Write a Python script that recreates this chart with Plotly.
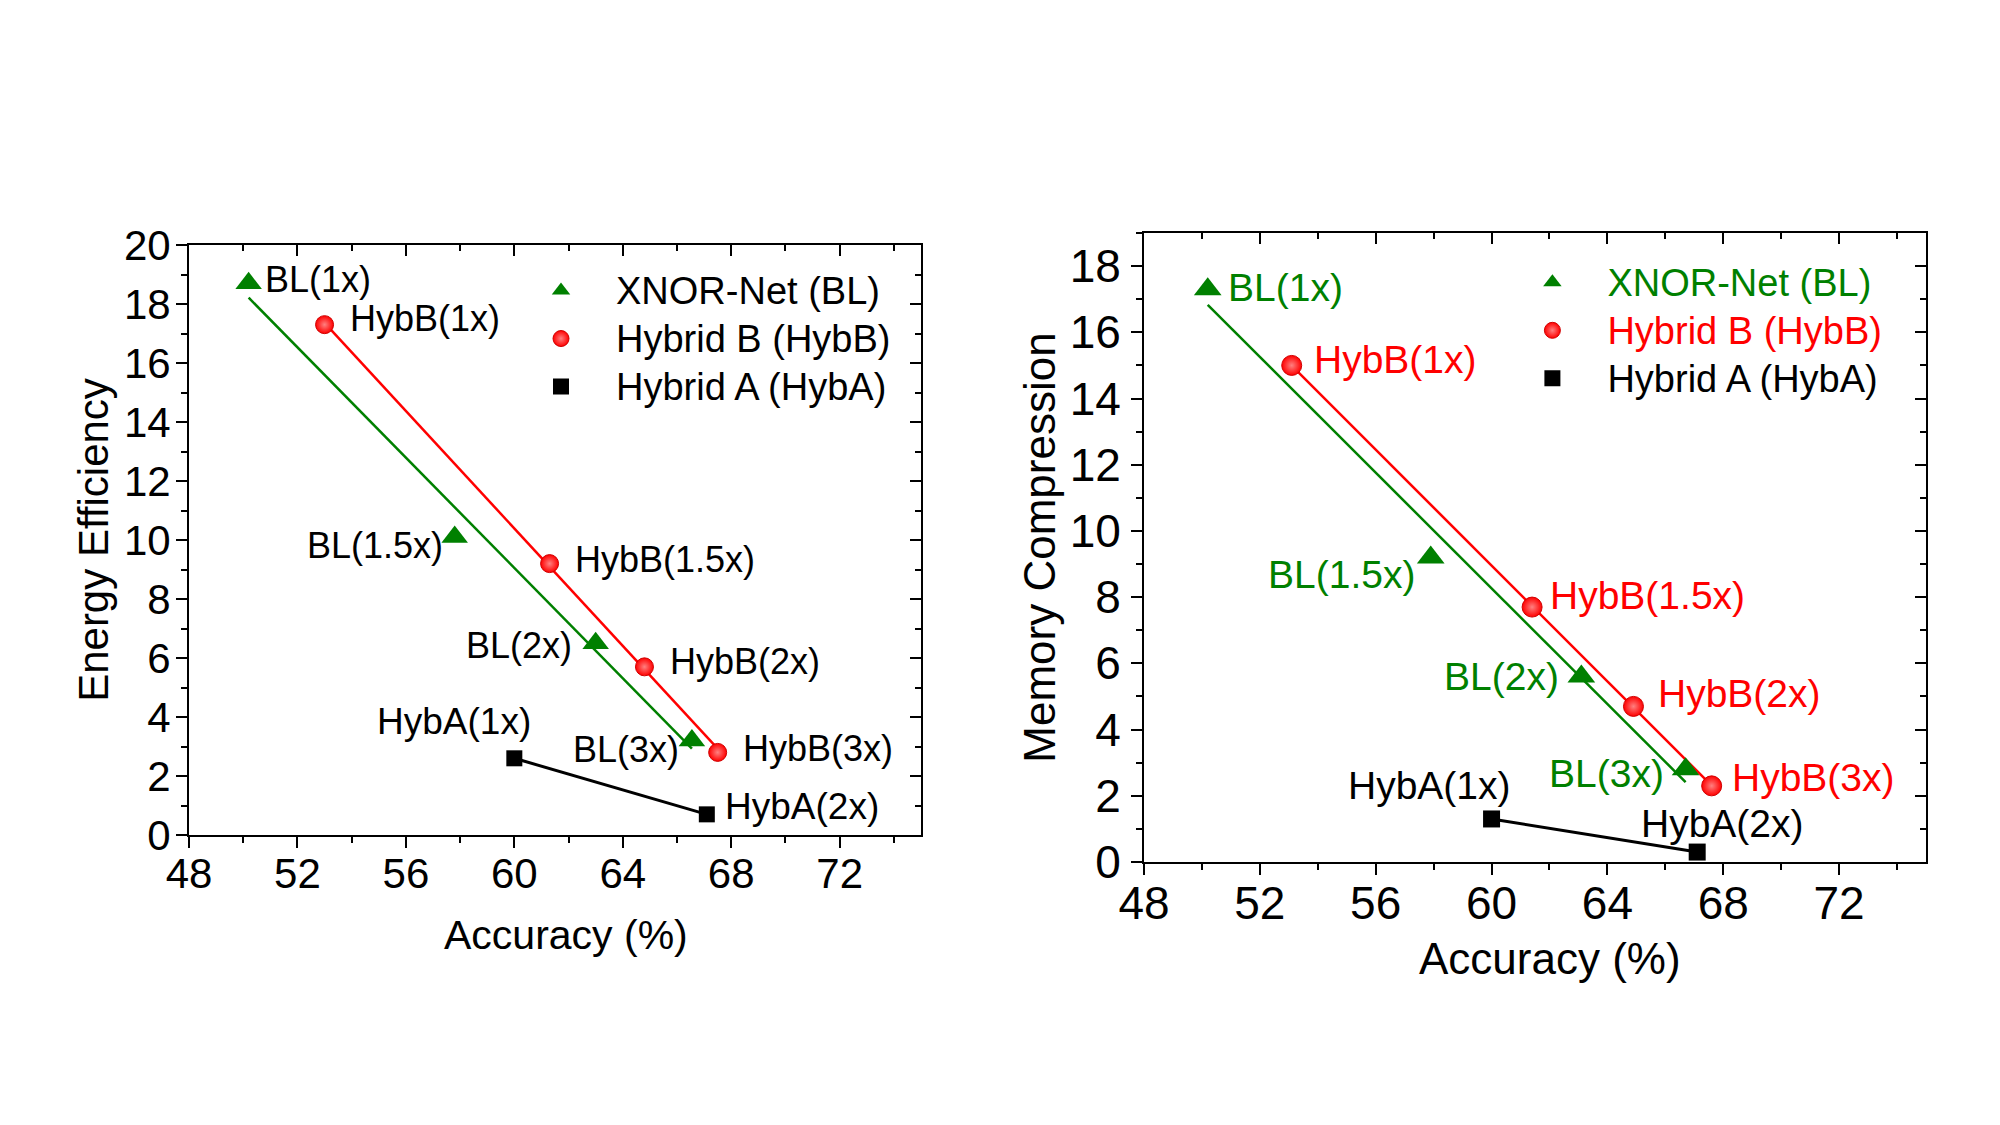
import numpy as np
import plotly.graph_objects as go

# ---------------- data: left panel (Energy Efficiency) ----------------
acc_bl_e = [50.2, 57.8, 63.0, 66.55]
ee_bl = [18.7, 10.1, 6.5, 3.2]
acc_hybb_e = [53.0, 61.3, 64.8, 67.5]
ee_hybb = [17.3, 9.2, 5.7, 2.8]
acc_hyba_e = [60.0, 67.1]
ee_hyba = [2.6, 0.7]

# ---------------- data: right panel (Memory Compression) ----------------
acc_bl_m = [50.2, 57.9, 63.1, 66.7]
mc_bl = [17.3, 9.2, 5.6, 2.8]
acc_hybb_m = [53.1, 61.4, 64.9, 67.6]
mc_hybb = [15.0, 7.7, 4.7, 2.3]
acc_hyba_m = [60.0, 67.1]
mc_hyba = [1.3, 0.3]

lbl_bl = ["BL(1x)", "BL(1.5x)", "BL(2x)", "BL(3x)"]
lbl_hybb = ["HybB(1x)", "HybB(1.5x)", "HybB(2x)", "HybB(3x)"]
lbl_hyba = ["HybA(1x)", "HybA(2x)"]

series_names = ["XNOR-Net (BL)", "Hybrid B (HybB)", "Hybrid A (HybA)"]
x_ticks = [48, 52, 56, 60, 64, 68, 72]
x_title = "Accuracy (%)"

GREEN = "#008000"
RED = "#ff0000"
BLACK = "#000000"
FONT = "Liberation Sans, Arial, sans-serif"

fig = go.Figure()


def fit_line(xs, ys):
    c = np.polyfit(xs, ys, 1)
    xe = [min(xs), max(xs)]
    return xe, list(np.polyval(c, xe))


def add_panel(xa, ya, bl_x, bl_y, b_x, b_y, a_x, a_y, legend, colored, msz):
    xr = "x" if xa == 1 else f"x{xa}"
    yr = "y" if ya == 1 else f"y{ya}"
    fx, fy = fit_line(bl_x, bl_y)
    fig.add_trace(go.Scatter(x=fx, y=fy, mode="lines", line=dict(color=GREEN, width=2.5),
                             xaxis=xr, yaxis=yr, showlegend=False, hoverinfo="skip"))
    fx, fy = fit_line(b_x, b_y)
    fig.add_trace(go.Scatter(x=fx, y=fy, mode="lines", line=dict(color=RED, width=2.5),
                             xaxis=xr, yaxis=yr, showlegend=False, hoverinfo="skip"))
    fig.add_trace(go.Scatter(x=a_x, y=a_y, mode="lines", line=dict(color=BLACK, width=3),
                             xaxis=xr, yaxis=yr, showlegend=False, hoverinfo="skip"))
    cols = [GREEN, RED, BLACK] if colored else [BLACK] * 3
    names = [f"<span style='color:{c};font-size:38px'>{n}</span>" for c, n in zip(cols, series_names)]
    fig.add_trace(go.Scatter(x=bl_x, y=bl_y, mode="markers", name=names[0], legend=legend,
                             marker=dict(symbol="triangle-up", size=msz[0], color=GREEN, line=dict(width=0)),
                             xaxis=xr, yaxis=yr))
    fig.add_trace(go.Scatter(x=b_x, y=b_y, mode="markers", name=names[1], legend=legend,
                             marker=dict(symbol="circle", size=msz[1], color=RED,
                                         gradient=dict(type="radial", color="#ff8080"),
                                         line=dict(width=1, color="#d00000")),
                             xaxis=xr, yaxis=yr))
    fig.add_trace(go.Scatter(x=a_x, y=a_y, mode="markers", name=names[2], legend=legend,
                             marker=dict(symbol="square", size=msz[2], color=BLACK, line=dict(width=0)),
                             xaxis=xr, yaxis=yr))


add_panel(1, 1, acc_bl_e, ee_bl, acc_hybb_e, ee_hybb, acc_hyba_e, ee_hyba, "legend", False, (23, 18, 16))
add_panel(2, 2, acc_bl_m, mc_bl, acc_hybb_m, mc_hybb, acc_hyba_m, mc_hyba, "legend2", True, (24, 20, 17))

# invisible traces to anchor mirror axes (inward ticks on top/right)
fig.add_trace(go.Scatter(x=acc_hyba_e, y=ee_hyba, xaxis="x3", yaxis="y3", mode="markers",
                         marker=dict(opacity=0), showlegend=False, hoverinfo="skip"))
fig.add_trace(go.Scatter(x=acc_hyba_m, y=mc_hyba, xaxis="x4", yaxis="y4", mode="markers",
                         marker=dict(opacity=0), showlegend=False, hoverinfo="skip"))

# ---------------- annotations (point labels) ----------------
ann = []


def labels(xr, yr, xs, ys, texts, color, size, offs):
    for x, y, t, (anc, dx, dy) in zip(xs, ys, texts, offs):
        ann.append(dict(x=x, y=y, xref=xr, yref=yr, text=t, showarrow=False,
                        xanchor=anc, yanchor="middle", xshift=dx, yshift=dy,
                        font=dict(family=FONT, size=size, color=color)))


labels("x", "y", acc_bl_e, ee_bl, lbl_bl, BLACK, 36,
       [("left", 14, 4), ("right", -10, -8), ("right", -22, -2), ("right", -11, -9)])
labels("x", "y", acc_hybb_e, ee_hybb, lbl_hybb, BLACK, 36,
       [("left", 23, 6), ("left", 23, 4), ("left", 24, 5), ("left", 23, 4)])
labels("x", "y", acc_hyba_e, ee_hyba, lbl_hyba, BLACK, 37,
       [("center", -60, 37), ("left", 16, 8)])

labels("x2", "y2", acc_bl_m, mc_bl, lbl_bl, GREEN, 39,
       [("left", 18, 2), ("right", -14, -17), ("right", -20, 0), ("right", -20, -4)])
labels("x2", "y2", acc_hybb_m, mc_hybb, lbl_hybb, RED, 39,
       [("left", 20, 6), ("left", 16, 12), ("left", 23, 13), ("left", 18, 8)])
labels("x2", "y2", acc_hyba_m, mc_hyba, lbl_hyba, BLACK, 39,
       [("center", -62, 33), ("center", 25, 29)])

# x-axis titles (placed slightly right of axis centre, as in the original)
ann.append(dict(x=0.283, y=0.1689, xref="paper", yref="paper", text=x_title, showarrow=False,
                xanchor="center", yanchor="middle", font=dict(family=FONT, size=41, color=BLACK)))
ann.append(dict(x=0.775, y=0.1476, xref="paper", yref="paper", text=x_title, showarrow=False,
                xanchor="center", yanchor="middle", font=dict(family=FONT, size=44, color=BLACK)))


def base_x(tsz, lstand, dom, anchor):
    return dict(domain=dom, anchor=anchor, range=[48, 75], tickvals=x_ticks, automargin=False,
                ticks="outside", ticklen=11, tickwidth=2, tickcolor=BLACK,
                minor=dict(ticks="outside", ticklen=6, tickwidth=2, dtick=2, tick0=48, tickcolor=BLACK),
                showline=True, linewidth=2, linecolor=BLACK, showgrid=False, zeroline=False,
                tickfont=dict(family=FONT, size=tsz, color=BLACK), ticklabelstandoff=lstand)


def base_y(rng, tsize, tsz, standoff, lstand, dom, anchor, title):
    return dict(domain=dom, anchor=anchor, range=rng, dtick=2, tick0=0, automargin=False,
                ticks="outside", ticklen=11, tickwidth=2, tickcolor=BLACK,
                minor=dict(ticks="outside", ticklen=6, tickwidth=2, dtick=1, tickcolor=BLACK),
                showline=True, linewidth=2, linecolor=BLACK, showgrid=False, zeroline=False,
                tickfont=dict(family=FONT, size=tsz, color=BLACK), ticklabelstandoff=lstand,
                title=dict(text=title, font=dict(family=FONT, size=tsize, color=BLACK), standoff=standoff))


def mirror_x(base, rng):
    return dict(overlaying=base, side="top", anchor="y" if base == "x" else "y2", range=rng,
                tickvals=x_ticks, ticks="inside", ticklen=11, tickwidth=2, tickcolor=BLACK,
                minor=dict(ticks="inside", ticklen=6, tickwidth=2, dtick=2, tick0=48, tickcolor=BLACK),
                showticklabels=False, showline=True, linewidth=2, linecolor=BLACK,
                showgrid=False, zeroline=False, automargin=False)


def mirror_y(base, anchor, rng):
    return dict(overlaying=base, side="right", anchor=anchor, range=rng, dtick=2, tick0=0,
                ticks="inside", ticklen=11, tickwidth=2, tickcolor=BLACK,
                minor=dict(ticks="inside", ticklen=6, tickwidth=2, dtick=1, tickcolor=BLACK),
                showticklabels=False, showline=True, linewidth=2, linecolor=BLACK,
                showgrid=False, zeroline=False, automargin=False)


LX = [0.0945, 0.4605]
LY = [0.25778, 0.78222]
RX = [0.572, 0.963]
RY = [0.23378, 0.79289]

fig.update_layout(
    width=2000, height=1125,
    margin=dict(l=0, r=0, t=0, b=0, autoexpand=False),
    paper_bgcolor="white", plot_bgcolor="white",
    font=dict(family=FONT, color=BLACK),
    xaxis=base_x(42, -10, LX, "y"),
    yaxis=base_y([0, 20], 42, 42, 2, -3, LY, "x", "Energy Efficiency"),
    xaxis2=base_x(46, -11, RX, "y2"),
    yaxis2=base_y([0, 19], 44, 46, 0, 1, RY, "x2", "Memory Compression"),
    xaxis3=mirror_x("x", [48, 75]),
    yaxis3=mirror_y("y", "x", [0, 20]),
    xaxis4=mirror_x("x2", [48, 75]),
    yaxis4=mirror_y("y2", "x2", [0, 19]),
    legend=dict(x=0.253, y=0.7675, xanchor="left", yanchor="top", bgcolor="rgba(0,0,0,0)",
                font=dict(family=FONT, size=34.6, color=BLACK), itemwidth=100, tracegroupgap=0),
    legend2=dict(x=0.7487, y=0.7748, xanchor="left", yanchor="top", bgcolor="rgba(0,0,0,0)",
                 font=dict(family=FONT, size=34.6, color=BLACK), itemwidth=100, tracegroupgap=0),
    annotations=ann,
    showlegend=True,
)

fig.write_html("out.html")
